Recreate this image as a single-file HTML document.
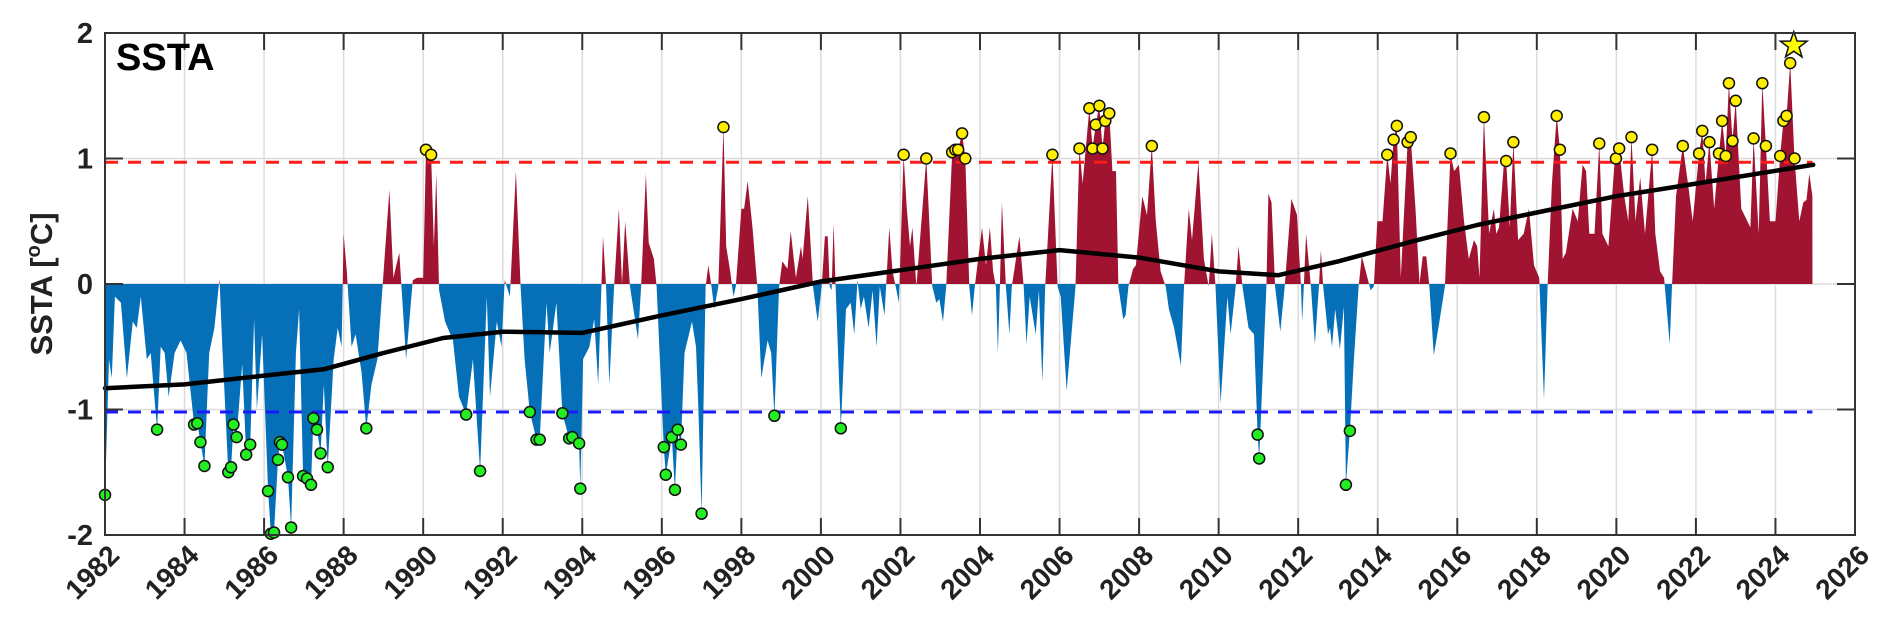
<!DOCTYPE html>
<html><head><meta charset="utf-8"><style>
html,body{margin:0;padding:0;background:#fff;}
svg{display:block;font-family:"Liberation Sans",Arial,sans-serif;}
</style></head><body>
<svg id="chart" width="1892" height="635" viewBox="0 0 1892 635" xmlns="http://www.w3.org/2000/svg">
<defs>
<clipPath id="clipPos"><rect x="105" y="0" width="1750" height="284"/></clipPath>
<clipPath id="clipNeg"><rect x="105" y="284" width="1750" height="300"/></clipPath>
</defs>
<g id="grid"></g>
<g id="areas"></g>
<g id="refs"></g>
<g id="trend"></g>
<g id="marks"></g>
<g id="axes"></g>
<text x="116" y="70" font-size="38" font-weight="bold" fill="#000">SSTA</text>
<text transform="translate(52,284) rotate(-90)" text-anchor="middle" font-size="31" font-weight="bold" fill="#222">SSTA [<tspan font-size="20" dy="-12">o</tspan><tspan dy="12">C]</tspan></text>
</svg>
<script>
const years = [1982.00,1982.10,1982.17,1982.25,1982.40,1982.55,1982.70,1982.80,1982.90,1983.05,1983.15,1983.31,1983.40,1983.50,1983.60,1983.75,1983.90,1984.05,1984.20,1984.24,1984.32,1984.40,1984.50,1984.62,1984.75,1984.88,1984.95,1985.10,1985.17,1985.23,1985.31,1985.45,1985.55,1985.65,1985.75,1985.82,1985.95,1986.10,1986.17,1986.25,1986.35,1986.40,1986.45,1986.60,1986.68,1986.80,1986.88,1986.98,1987.08,1987.18,1987.24,1987.33,1987.42,1987.50,1987.60,1987.75,1987.85,1987.95,1988.00,1988.08,1988.20,1988.30,1988.45,1988.57,1988.70,1988.85,1989.15,1989.25,1989.40,1989.45,1989.57,1989.74,1989.85,1990.00,1990.07,1990.20,1990.27,1990.33,1990.40,1990.55,1990.75,1990.90,1991.08,1991.25,1991.43,1991.60,1991.68,1991.85,1991.97,1992.05,1992.18,1992.33,1992.45,1992.55,1992.68,1992.85,1992.93,1993.10,1993.18,1993.35,1993.50,1993.67,1993.75,1993.92,1993.95,1994.02,1994.18,1994.30,1994.40,1994.48,1994.52,1994.60,1994.68,1994.80,1994.92,1995.00,1995.08,1995.20,1995.40,1995.48,1995.60,1995.67,1995.80,1995.87,1996.05,1996.10,1996.25,1996.33,1996.40,1996.48,1996.57,1996.76,1996.86,1996.92,1997.00,1997.10,1997.17,1997.25,1997.32,1997.42,1997.55,1997.62,1997.72,1997.80,1997.86,1998.00,1998.07,1998.16,1998.28,1998.40,1998.50,1998.66,1998.75,1998.83,1998.95,1999.03,1999.16,1999.24,1999.37,1999.50,1999.54,1999.67,1999.80,1999.92,2000.02,2000.10,2000.17,2000.22,2000.27,2000.32,2000.37,2000.50,2000.63,2000.75,2000.84,2000.92,2001.00,2001.08,2001.20,2001.30,2001.40,2001.48,2001.60,2001.72,2001.80,2001.88,2001.96,2002.08,2002.16,2002.24,2002.30,2002.40,2002.65,2002.80,2002.90,2002.98,2003.07,2003.15,2003.30,2003.38,2003.45,2003.55,2003.63,2003.73,2003.80,2003.87,2004.05,2004.15,2004.25,2004.33,2004.40,2004.45,2004.50,2004.55,2004.65,2004.74,2004.80,2004.99,2005.10,2005.17,2005.25,2005.40,2005.48,2005.57,2005.64,2005.82,2005.95,2006.03,2006.18,2006.40,2006.50,2006.58,2006.75,2006.83,2006.91,2007.00,2007.08,2007.15,2007.25,2007.33,2007.42,2007.48,2007.60,2007.66,2007.73,2007.85,2007.92,2008.08,2008.20,2008.32,2008.42,2008.54,2008.67,2008.75,2008.88,2009.05,2009.13,2009.25,2009.33,2009.49,2009.63,2009.75,2009.83,2009.92,2010.05,2010.22,2010.30,2010.43,2010.50,2010.60,2010.75,2010.89,2010.98,2011.02,2011.20,2011.25,2011.33,2011.42,2011.55,2011.66,2011.83,2011.97,2012.07,2012.10,2012.14,2012.20,2012.32,2012.42,2012.52,2012.57,2012.63,2012.75,2012.80,2012.85,2012.93,2013.05,2013.15,2013.20,2013.30,2013.40,2013.52,2013.60,2013.70,2013.82,2013.90,2013.99,2014.12,2014.24,2014.32,2014.40,2014.48,2014.58,2014.75,2014.83,2014.95,2015.05,2015.13,2015.22,2015.30,2015.41,2015.55,2015.69,2015.83,2015.92,2016.04,2016.17,2016.29,2016.42,2016.50,2016.56,2016.67,2016.80,2016.92,2016.98,2017.05,2017.17,2017.23,2017.32,2017.41,2017.53,2017.67,2017.80,2017.93,2018.06,2018.18,2018.27,2018.38,2018.50,2018.58,2018.65,2018.73,2018.90,2019.03,2019.15,2019.24,2019.32,2019.45,2019.57,2019.65,2019.80,2019.95,2019.99,2020.07,2020.20,2020.30,2020.38,2020.48,2020.60,2020.72,2020.90,2020.98,2021.10,2021.20,2021.34,2021.40,2021.50,2021.67,2021.80,2021.92,2022.08,2022.16,2022.24,2022.34,2022.46,2022.58,2022.66,2022.75,2022.83,2022.92,2023.00,2023.14,2023.37,2023.45,2023.58,2023.67,2023.76,2023.86,2024.00,2024.12,2024.20,2024.28,2024.37,2024.48,2024.60,2024.70,2024.78,2024.85,2024.93];
const ssta = [-1.68,-0.60,-0.75,-0.10,-0.15,-0.75,-0.30,-0.35,-0.10,-0.60,-0.55,-1.16,-0.50,-0.55,-0.90,-0.55,-0.45,-0.55,-1.00,-1.12,-1.11,-1.26,-1.45,-0.55,-0.35,0.04,-0.50,-1.50,-1.46,-1.12,-1.22,-0.64,-1.36,-1.28,-0.28,-1.00,-0.40,-1.65,-1.99,-1.98,-1.40,-1.26,-1.28,-1.54,-1.94,-0.55,-0.20,-1.53,-1.55,-1.60,-1.07,-1.16,-1.35,-0.80,-1.46,-0.60,-0.35,-0.50,0.40,0.10,-0.50,-0.40,-0.70,-1.15,-0.80,-0.60,0.75,0.05,0.25,0.00,-0.60,0.03,0.05,0.05,1.07,1.03,0.30,0.88,-0.05,-0.30,-0.45,-0.90,-1.04,-0.60,-1.49,-0.10,-0.90,-0.30,-0.50,0.03,-0.10,0.90,-0.02,-0.60,-1.02,-1.24,-1.24,-0.15,-0.55,-0.15,-1.03,-1.23,-1.22,-1.27,-1.63,-0.60,-0.50,-0.28,-0.80,-0.02,0.38,-0.02,-0.80,-0.02,0.60,0.00,0.50,-0.02,-0.44,-0.02,0.88,0.33,0.20,-0.02,-1.30,-1.52,-1.22,-1.64,-1.16,-1.28,-0.55,-0.30,-0.50,-1.00,-1.83,-0.02,0.15,-0.02,-0.20,-0.02,1.25,0.30,0.10,-0.10,-0.02,0.60,0.60,0.82,0.45,-0.02,-0.75,-0.45,-0.55,-1.05,-0.02,0.18,0.12,0.42,0.05,0.30,0.20,0.70,-0.02,-0.30,-0.02,0.38,0.38,-0.02,-0.05,0.48,-0.02,-1.15,-0.20,-0.15,-0.40,0.03,-0.20,-0.10,-0.35,-0.05,-0.50,-0.02,-0.25,0.45,0.10,-0.02,-0.15,1.03,0.60,0.30,0.45,-0.02,1.00,-0.02,-0.15,-0.12,-0.30,-0.02,1.05,1.07,1.07,1.20,1.00,-0.02,-0.25,-0.02,0.45,0.15,0.45,0.10,-0.02,-0.55,-0.02,0.65,-0.02,-0.40,-0.02,0.38,-0.02,-0.48,-0.10,-0.40,-0.05,-0.78,-0.02,1.03,-0.02,-0.10,-0.85,-0.02,1.08,0.80,1.40,1.08,1.27,1.42,1.08,1.30,1.36,0.90,0.90,-0.02,-0.28,-0.25,-0.02,0.12,0.15,0.70,0.55,1.10,0.50,0.10,-0.02,-0.20,-0.35,-0.65,-0.02,0.60,0.35,0.97,0.20,-0.02,0.40,-0.02,-0.95,-0.10,-0.40,-0.02,0.30,-0.02,-0.35,-0.40,-1.20,-1.39,-0.02,0.72,0.65,-0.02,-0.38,-0.02,0.68,0.55,-0.02,-0.30,-0.02,0.40,-0.02,-0.48,-0.02,0.27,-0.02,-0.40,-0.35,-0.50,-0.20,-0.52,-0.18,-1.60,-1.17,-0.60,-0.02,0.22,0.10,-0.05,-0.02,0.50,0.50,1.03,0.80,1.15,1.26,0.05,1.13,1.17,0.60,0.00,0.22,0.22,-0.02,-0.57,-0.30,-0.02,1.04,0.90,0.95,0.50,0.20,0.35,0.30,0.05,1.33,0.40,0.60,0.40,0.45,0.95,0.98,0.45,1.13,0.35,0.40,0.60,0.15,0.05,-0.92,-0.02,0.80,1.34,1.07,0.20,0.25,0.60,0.50,0.95,0.90,0.40,0.40,1.12,0.40,0.30,0.95,1.00,1.08,0.70,0.50,1.17,0.50,0.85,0.40,1.07,0.40,0.10,0.05,-0.48,-0.02,0.70,1.10,0.80,0.50,1.04,1.22,0.80,1.13,0.60,1.04,1.30,1.02,1.60,1.14,1.46,0.60,0.45,1.16,0.40,1.60,1.10,0.50,0.50,1.02,1.30,1.34,1.76,1.00,0.50,0.65,0.67,0.88,0.70];
const trendYears = [1982,1984,1986,1987.5,1989,1990.5,1992,1994,1996,1998,2000,2002,2004,2006,2008,2010,2011.5,2013,2015,2016.5,2018,2020,2022,2024.95];
const trendValues = [-0.83,-0.80,-0.73,-0.68,-0.55,-0.43,-0.38,-0.39,-0.25,-0.12,0.02,0.11,0.20,0.27,0.21,0.10,0.07,0.18,0.35,0.47,0.57,0.70,0.80,0.95];
const xTicks = [1982,1984,1986,1988,1990,1992,1994,1996,1998,2000,2002,2004,2006,2008,2010,2012,2014,2016,2018,2020,2022,2024,2026];
const yTicks = [2,1,0,-1,-2];
const warmThreshold = [0.97];
const coldThreshold = [-1.02];
const recordPoint = [2024.46, 1.9];

const NS='http://www.w3.org/2000/svg';
const X0=105,X1=1855,Y0=33,Y1=535;
const xs=t=>X0+(t-1982)/(2026-1982)*(X1-X0);
const ys=v=>Y0+(2-v)/4*(Y1-Y0);
function mk(tag,attrs,parent){const e=document.createElementNS(NS,tag);for(const k in attrs)e.setAttribute(k,attrs[k]);parent.appendChild(e);return e;}

const grid=document.getElementById('grid');
xTicks.forEach(t=>{const l=mk('line',{x1:xs(t),x2:xs(t),y1:Y0,y2:Y1,stroke:'#dcdcdc','stroke-width':1.5},grid);

});
yTicks.forEach(v=>{const l=mk('line',{x1:X0,x2:X1,y1:ys(v),y2:ys(v),stroke:'#dcdcdc','stroke-width':1.5},grid);

});

const areas=document.getElementById('areas');
let d='M'+xs(years[0])+','+ys(0);
years.forEach((t,i)=>{d+=' L'+xs(t).toFixed(1)+','+ys(ssta[i]).toFixed(1);});
d+=' L'+xs(years[years.length-1])+','+ys(0)+' Z';
const pos=mk('path',{d:d,fill:'#a01431','clip-path':'url(#clipPos)'},areas);


const neg=mk('path',{d:d,fill:'#0570b8','clip-path':'url(#clipNeg)'},areas);



const refs=document.getElementById('refs');
const rl=mk('line',{x1:X0,x2:xs(years[years.length-1]),y1:ys(warmThreshold[0]),y2:ys(warmThreshold[0]),stroke:'#ff1a1a','stroke-width':3,'stroke-dasharray':'13,10'},refs);


const bl=mk('line',{x1:X0,x2:xs(years[years.length-1]),y1:ys(coldThreshold[0]),y2:ys(coldThreshold[0]),stroke:'#1a1aff','stroke-width':3,'stroke-dasharray':'13,10'},refs);



const trend=document.getElementById('trend');
const tp=mk('polyline',{points:trendYears.map((t,i)=>xs(t).toFixed(1)+','+ys(trendValues[i]).toFixed(1)).join(' '),fill:'none',stroke:'#000','stroke-width':4.5,'stroke-linejoin':'round','stroke-linecap':'round'},trend);



const marks=document.getElementById('marks');
years.forEach((t,i)=>{const v=ssta[i];
if(v>warmThreshold[0]){const c=mk('circle',{cx:xs(t),cy:ys(v),r:5.5,fill:'#ffee00',stroke:'#111','stroke-width':1.5},marks);

}
else if(v<coldThreshold[0]+0.02){const c=mk('circle',{cx:xs(t),cy:ys(v),r:5.5,fill:'#22ee22',stroke:'#111','stroke-width':1.5},marks);

}});
(function(){const cx=xs(recordPoint[0]),cy=ys(recordPoint[1]),R=14,r=5.6;let p=[];
for(let k=0;k<10;k++){const a=-Math.PI/2+k*Math.PI/5;const rr=k%2?r:R;p.push((cx+rr*Math.cos(a)).toFixed(1)+','+(cy+rr*Math.sin(a)).toFixed(1));}
const s=mk('polygon',{points:p.join(' '),fill:'#ffff00',stroke:'#111','stroke-width':1.5},marks);

})();

const axes=document.getElementById('axes');
const box=mk('rect',{x:X0,y:Y0,width:X1-X0,height:Y1-Y0,fill:'none',stroke:'#333','stroke-width':2},axes);


xTicks.forEach(t=>{const x=xs(t);
mk('line',{x1:x,x2:x,y1:Y0,y2:Y0+17,stroke:'#333','stroke-width':2},axes);
mk('line',{x1:x,x2:x,y1:Y1,y2:Y1-17,stroke:'#333','stroke-width':2},axes);
const ax=x+16, ay=Y1+22;
const tx=mk('text',{x:ax,y:ay,'font-size':28,'font-weight':'bold',fill:'#222','text-anchor':'end',transform:'rotate(-45 '+ax+' '+ay+')'},axes);
tx.textContent=t;

});
yTicks.forEach(v=>{const y=ys(v);
mk('line',{x1:X0,x2:X0+18,y1:y,y2:y,stroke:'#333','stroke-width':2},axes);
mk('line',{x1:X1,x2:X1-18,y1:y,y2:y,stroke:'#333','stroke-width':2},axes);
const tx=mk('text',{x:X0-12,y:y+10,'font-size':29,'font-weight':'bold',fill:'#222','text-anchor':'end'},axes);
tx.textContent=v;

});
</script>
</body></html>
